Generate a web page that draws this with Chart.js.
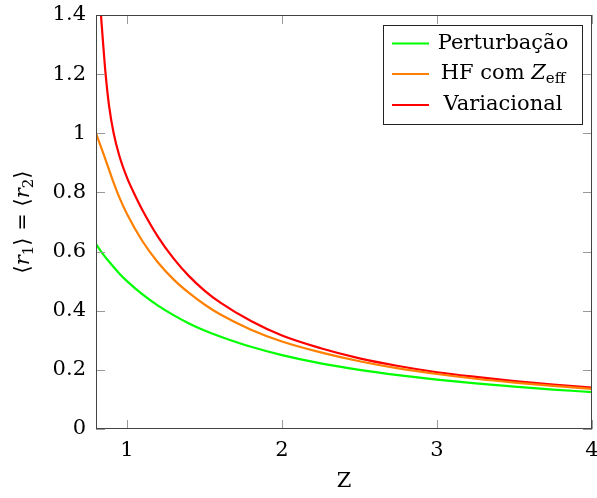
<!DOCTYPE html>
<html><head><meta charset="utf-8">
<script src="https://cdn.jsdelivr.net/npm/chart.js@4.4.0/dist/chart.umd.min.js"></script>
<style>html,body{margin:0;padding:0;background:#fff;}</style>
</head><body>
<canvas id="c" width="597" height="498"></canvas>
<script>
// ---- data ----
const zGrid = [0.8,0.85,0.9,0.95,1.0,1.1,1.2,1.3,1.4,1.5,1.6,1.8,2.0,2.25,2.5,2.75,3.0,3.25,3.5,3.75,4.0];
const pertValues = [0.625,0.588,0.556,0.526,0.500,0.455,0.417,0.385,0.357,0.333,0.313,0.278,0.250,0.222,0.200,0.182,0.167,0.154,0.143,0.133,0.125];
const hfValues = [1.000,0.928,0.853,0.784,0.727,0.635,0.563,0.506,0.460,0.421,0.388,0.336,0.296,0.259,0.229,0.205,0.186,0.170,0.157,0.146,0.136];
const zVar = [0.815,0.832,0.845,0.862,0.885,0.914,0.95,1.0,1.043,1.1,1.2,1.3,1.4,1.5,1.6,1.8,2.0,2.25,2.5,2.75,3.0,3.25,3.5,3.75,4.0];
const varValues = [1.52,1.40,1.31,1.20,1.09,1.00,0.925,0.85,0.80,0.74,0.65,0.577,0.517,0.468,0.428,0.365,0.316,0.273,0.239,0.213,0.192,0.176,0.162,0.150,0.140];
const xTicks = [1,2,3,4];
const yTicks = [0,0.2,0.4,0.6,0.8,1,1.2,1.4];
const seriesLabels = ['Perturbação','HF com Z_eff','Variacional'];
const seriesColors = ['#00ff00','#ff8000','#ff0000'];
const xTitle = 'Z';
const yTitle = '⟨r₁⟩ = ⟨r₂⟩';
// pieces of the y title: [text, style] where style n=normal, i=italic, s=subscript
const yTitleParts = [['⟨','n'],['r','i'],['1','s'],['⟩ = ⟨','n'],['r','i'],['2','s'],['⟩','n']];

const FONT = 'DejaVu Serif';
const FS = 21;

function pts(xs, ys){ return xs.map((x,i)=>({x:x,y:ys[i]})); }

const seriesData = [pts(zGrid,pertValues), pts(zGrid,hfValues), pts(zVar,varValues)];

function fontFor(st){
  if (st==='i') return 'italic '+FS+'px "'+FONT+'"';
  if (st==='s') return '15px "'+FONT+'"';
  return FS+'px "'+FONT+'"';
}

const framePlugin = {
  id:'frameLegend',
  afterDatasetsDraw(chart){
    const ctx = chart.ctx, a = chart.chartArea;
    const xs = chart.scales.x, ys = chart.scales.y;
    ctx.save();
    // inward ticks on all four sides
    ctx.strokeStyle = '#9a9a9a'; ctx.lineWidth = 1;
    const TL = 9;
    ctx.beginPath();
    xs.ticks.forEach(t=>{
      const px = Math.round(xs.getPixelForValue(t.value))+0.5;
      ctx.moveTo(px,a.bottom); ctx.lineTo(px,a.bottom-TL);
      ctx.moveTo(px,a.top); ctx.lineTo(px,a.top+TL);
    });
    ys.ticks.forEach(t=>{
      const py = Math.round(ys.getPixelForValue(t.value))+0.5;
      ctx.moveTo(a.left,py); ctx.lineTo(a.left+TL,py);
      ctx.moveTo(a.right,py); ctx.lineTo(a.right-TL,py);
    });
    ctx.stroke();
    // frame
    ctx.strokeStyle = '#444'; ctx.lineWidth = 1;
    ctx.strokeRect(Math.round(a.left)+0.5, Math.round(a.top)+0.5, Math.round(a.right-a.left)-1, Math.round(a.bottom-a.top)-1);
    // y title (rotated, italic r with subscripts)
    ctx.save();
    ctx.translate(24,(a.top+a.bottom)/2);
    ctx.rotate(-Math.PI/2);
    ctx.fillStyle = '#000'; ctx.textBaseline = 'middle'; ctx.textAlign = 'left';
    let tw = 0;
    yTitleParts.forEach(p=>{ ctx.font = fontFor(p[1]); tw += ctx.measureText(p[0]).width; });
    let tx = -tw/2;
    yTitleParts.forEach(p=>{
      ctx.font = fontFor(p[1]);
      ctx.fillText(p[0], tx, p[1]==='s' ? 5 : 0);
      tx += ctx.measureText(p[0]).width;
    });
    ctx.restore();
    // legend
    const bx = 383.5, by = 25.5, bw = 199, bh = 99;
    ctx.fillStyle = '#fff';
    ctx.fillRect(bx,by,bw,bh);
    ctx.strokeStyle = '#222'; ctx.lineWidth = 1;
    ctx.strokeRect(bx,by,bw,bh);
    const rows = [43.5, 74, 105];
    const cx = 503;
    chart.data.datasets.forEach((ds,i)=>{
      const y = rows[i];
      ctx.strokeStyle = ds.borderColor; ctx.lineWidth = 2.2;
      ctx.beginPath(); ctx.moveTo(392,y); ctx.lineTo(429,y); ctx.stroke();
      ctx.fillStyle = '#000'; ctx.textBaseline = 'middle'; ctx.textAlign = 'left';
      const lab = ds.label;
      if (lab.indexOf('_')>=0){
        const parts = lab.split('_');
        const pre = parts[0].slice(0,-1), zz = parts[0].slice(-1), sub = parts[1];
        const fN = fontFor('n'), fI = fontFor('i'), fS = fontFor('s');
        ctx.font = fN; const w1 = ctx.measureText(pre).width;
        ctx.font = fI; const w2 = ctx.measureText(zz).width;
        ctx.font = fS; const w3 = ctx.measureText(sub).width;
        let x0 = cx - (w1+w2+w3)/2;
        ctx.font = fN; ctx.fillText(pre,x0,y); x0+=w1;
        ctx.font = fI; ctx.fillText(zz,x0,y); x0+=w2;
        ctx.font = fS; ctx.fillText(sub,x0,y+5);
      } else {
        ctx.font = fontFor('n');
        ctx.textAlign = 'center';
        ctx.fillText(lab,cx,y);
      }
    });
    ctx.restore();
  }
};

new Chart(document.getElementById('c'),{
  type:'line',
  data:{
    datasets: seriesLabels.map((l,i)=>({
      label:l, data:seriesData[i], borderColor:seriesColors[i], backgroundColor:seriesColors[i],
      borderWidth:2.2, pointRadius:0, fill:false, cubicInterpolationMode:'monotone', clip:0
    }))
  },
  options:{
    responsive:false, devicePixelRatio:1, animation:false,
    layout:{padding:{top:15,right:5,left:0,bottom:0}},
    plugins:{legend:{display:false}, tooltip:{enabled:false}},
    scales:{
      x:{type:'linear',min:0.8,max:4,
        afterBuildTicks:s=>{s.ticks = xTicks.map(v=>({value:v}));},
        afterFit:s=>{s.height = 69; s.paddingLeft=0; s.paddingRight=0; s.paddingTop=0; s.paddingBottom=0;},
        grid:{display:false,drawTicks:false}, border:{display:false},
        ticks:{padding:9,color:'#000',font:{family:FONT,size:FS},callback:v=>String(v),maxRotation:0,autoSkip:false},
        title:{display:true,text:xTitle,color:'#000',font:{family:FONT,size:FS},padding:{top:0,bottom:4}}
      },
      y:{type:'linear',min:0,max:1.4,
        afterBuildTicks:s=>{s.ticks = yTicks.map(v=>({value:v}));},
        afterFit:s=>{s.width = 96; s.paddingLeft=0; s.paddingRight=0; s.paddingTop=0; s.paddingBottom=0;},
        grid:{display:false,drawTicks:false}, border:{display:false},
        ticks:{padding:10,color:'#000',font:{family:FONT,size:FS},callback:v=>String(v),autoSkip:false},
        title:{display:false,text:yTitle}
      }
    }
  },
  plugins:[framePlugin]
});
</script>
</body></html>
